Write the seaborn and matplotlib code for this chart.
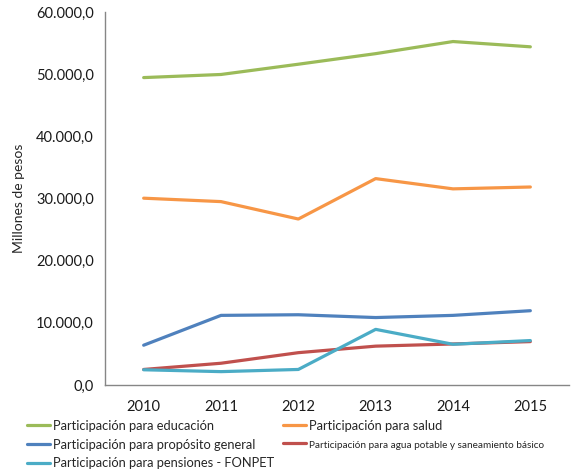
import numpy as np
import pandas as pd
import matplotlib
matplotlib.use('Agg')
import matplotlib.pyplot as plt
import seaborn as sns
from matplotlib.ticker import FuncFormatter, MultipleLocator

anios = [2010, 2011, 2012, 2013, 2014, 2015]
educacion = [49450, 49950, 51600, 53300, 55250, 54400]
salud = [30050, 29500, 26700, 33200, 31550, 31850]
proposito = [6400, 11200, 11300, 10850, 11200, 11950]
agua = [2500, 3500, 5200, 6250, 6600, 6980]
pensiones = [2450, 2150, 2500, 8950, 6550, 7150]

series = {
    'Participación para educación': educacion,
    'Participación para salud': salud,
    'Participación para propósito general': proposito,
    'Participación para agua potable y saneamiento básico': agua,
    'Participación para pensiones - FONPET': pensiones,
}
colores = ['#9BBB59', '#F79646', '#4F81BD', '#C0504D', '#4BACC6']

sns.set_style('white')
plt.rcParams['font.family'] = ['Lato', 'DejaVu Sans']
plt.rcParams['font.size'] = 10

rows = []
for nombre, vals in series.items():
    for a, v in zip(anios, vals):
        rows.append({'anio': a, 'valor': v, 'serie': nombre})
df = pd.DataFrame(rows)

fig = plt.figure(figsize=(5.82, 4.70), dpi=100)
ax = fig.add_axes([105/582, 1 - 385/470, (569-105)/582, (385-12)/470])

sns.lineplot(data=df, x='anio', y='valor', hue='serie', palette=colores,
             linewidth=2.3, ax=ax, legend=False)

gris = '#868686'
ax.set_xlim(2009.5, 2015.5)
ax.set_ylim(0, 60000)
ax.set_xticks(anios)
ax.set_xticks(np.arange(2009.5, 2016, 1), minor=True)
ax.tick_params(axis='x', which='major', length=0, pad=11, labelsize=10.5, labelcolor='#1a1a1a')
ax.tick_params(axis='x', which='minor', length=5, color=gris, direction='out')
ax.yaxis.set_major_locator(MultipleLocator(10000))
ax.yaxis.set_major_formatter(FuncFormatter(
    lambda v, p: '{:,.1f}'.format(v).replace(',', 'X').replace('.', ',').replace('X', '.')))
ax.tick_params(axis='y', length=5, color=gris, labelsize=10.5, labelcolor='#1a1a1a', pad=3)
ax.set_xlabel('')
ax.set_ylabel('Millones de pesos', fontsize=10, labelpad=8)
sns.despine(ax=ax)
for s in ['left', 'bottom']:
    ax.spines[s].set_color(gris)
    ax.spines[s].set_linewidth(1.0)

nombres = list(series.keys())
handles = [plt.Line2D([], [], color=c, lw=2.3) for c in colores]
orden = [0, 2, 4, 1, 3]
leg = fig.legend([handles[i] for i in orden], [nombres[i] for i in orden],
                 ncol=2, loc='upper left', bbox_to_anchor=(27/582, 1 - 420/470),
                 frameon=False, fontsize=9.3, handlelength=1.75, handletextpad=0.25,
                 borderpad=0, borderaxespad=0, labelspacing=0.52, columnspacing=0.7)
for t in leg.get_texts():
    if t.get_text().startswith('Participación para agua'):
        t.set_fontsize(7.2)

fig.savefig('out.png', dpi=100)
